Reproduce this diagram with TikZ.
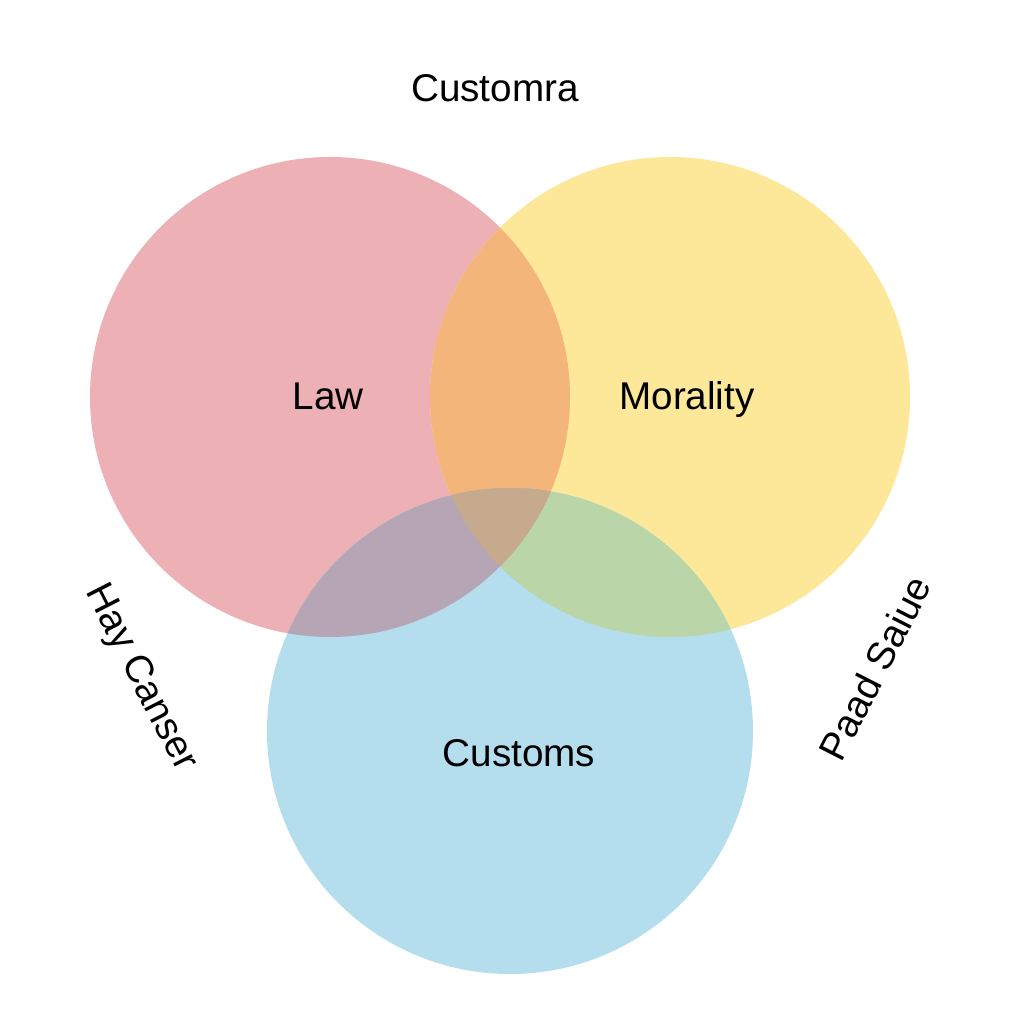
\documentclass[tikz,border=0pt]{standalone}
\usepackage{fontspec}
\setmainfont{Liberation Sans}
\definecolor{lawred}{RGB}{237,176,180}
\definecolor{moryellow}{RGB}{252,232,152}
\definecolor{cusblue}{RGB}{180,222,237}
\definecolor{lawmor}{RGB}{243,181,122}
\definecolor{lawcus}{RGB}{182,166,181}
\definecolor{morcus}{RGB}{186,213,168}
\definecolor{allthree}{RGB}{198,170,142}
\begin{document}
\begin{tikzpicture}[
  set/.style = {circle, minimum size = 4.8cm, inner sep = 0pt},
  lbl/.style = {font = \fontsize{11}{13}\selectfont}
]
\useasboundingbox[fill = white] (0,0) rectangle (10.24,10.24);
%白色背景,大小(10.24,10.24)
\node[set, fill = lawred] (law) at (3.30,6.27) {};
%红色圆(law),圆心(3.30,6.27)
\node[set, fill = moryellow] (morality) at (6.70,6.27) {};
%黄色圆(morality),圆心(6.70,6.27)
\node[set, fill = cusblue, minimum size = 4.86cm] (customs) at (5.10,2.93) {};
%蓝色圆(customs),圆心(5.10,2.93)
\begin{scope}
\clip (morality.center) circle (2.4);
\fill[morcus] (customs.center) circle (2.43);
\end{scope}
%黄蓝的重叠部分
\begin{scope}
\clip (law.center) circle (2.4);
\fill[lawmor] (morality.center) circle (2.4);
\fill[lawcus] (customs.center) circle (2.43);
\clip (morality.center) circle (2.4);
\fill[allthree] (customs.center) circle (2.43);
\end{scope}
%红黄、红蓝以及三者的重叠部分(clip)
\node[lbl] (lawtext) at (3.28,6.28) {Law};
\node[lbl] (mortext) at (6.87,6.24) {Morality};
\node[lbl] (custext) at (5.19,2.71) {Customs};
%三个圆的文字
\node[lbl] (title) at (4.95,9.36) {Customra};
%上方文字
\node[lbl, rotate = -63] (left) at (1.40,3.46) {Hay Canser};
\node[lbl, rotate = 63] (right) at (8.75,3.56) {Paad Saiue};
%左右两侧旋转(rotate)的文字
\end{tikzpicture}
\end{document}
